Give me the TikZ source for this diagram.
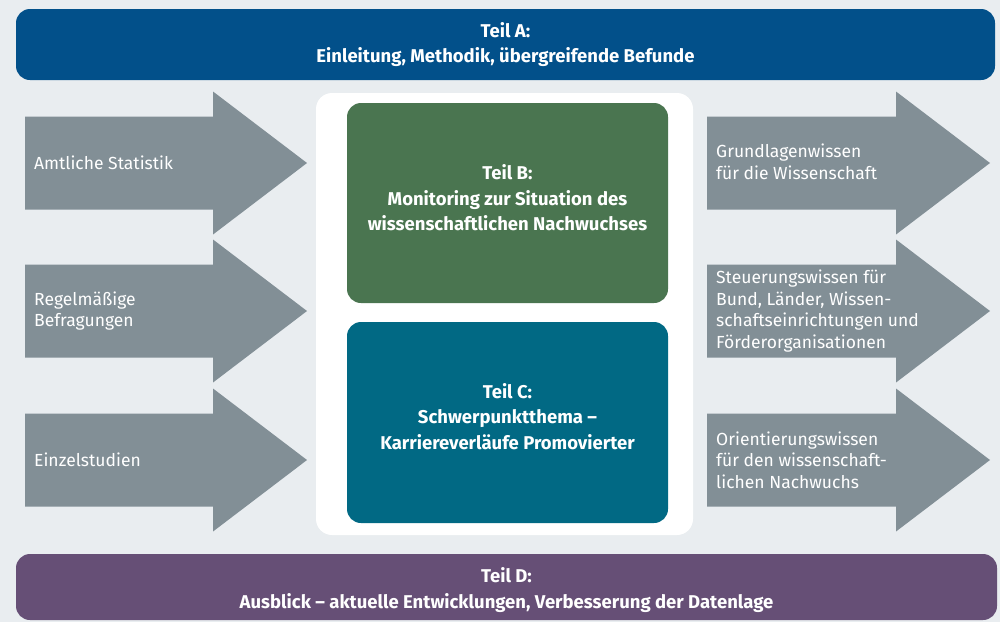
\documentclass[tikz,border=0pt]{standalone}
\usepackage{fontspec}
\setmainfont{Fira Sans}
\definecolor{bgc}{HTML}{E9EDF0}
\definecolor{blueA}{HTML}{02508A}
\definecolor{greenB}{HTML}{4A7550}
\definecolor{tealC}{HTML}{016984}
\definecolor{purpleD}{HTML}{664F76}
\definecolor{arrowc}{HTML}{828F96}
\begin{document}
\begin{tikzpicture}[x=1pt,y=-1pt,
  box/.style={rounded corners=14pt, inner sep=0pt, text=white, align=center,
    font=\fontsize{18.5}{25.5}\selectfont\bfseries},
  arrtext/.style={anchor=west, inner sep=0pt, text=white, align=left,
    font=\fontsize{17.5}{21.5}\selectfont},
  arrfill/.style={fill=arrowc}]
\fill[bgc] (0,0) rectangle (1000,622);
\useasboundingbox (0,0) rectangle (1000,622);
% banners
\node[box, fill=blueA, minimum width=979pt, minimum height=71pt] (A) at (505.5,44.5)
  {Teil A:\\Einleitung, Methodik, übergreifende Befunde};
\node[box, fill=purpleD, minimum width=981pt, minimum height=66pt] (D) at (506.5,587) {};
\node[box, anchor=center] (tD) at (506.5,590)
  {Teil D:\\Ausblick – aktuelle Entwicklungen, Verbesserung der Datenlage};
% white panel
\node[fill=white, rounded corners=16pt, minimum width=377pt, minimum height=442pt, inner sep=0pt] (panel) at (504.5,314) {};
\node[box, fill=greenB, minimum width=321pt, minimum height=200pt] (B) at (507.5,203) {};
\node[box] (tB) at (507.5,198)
  {Teil B:\\Monitoring zur Situation des\\wissenschaftlichen Nachwuchses};
\node[box, fill=tealC, minimum width=321pt, minimum height=201pt] (C) at (507.5,422.5) {};
\node[box] (tC) at (507.5,416.5)
  {Teil C:\\Schwerpunktthema –\\Karriereverläufe Promovierter};
% left arrows
\foreach \c/\n in {163/L1,311/L2,460/L3}{
  \fill[arrfill] (25,\c-46.5) -- (213,\c-46.5) -- (213,\c-71.5) -- (307,\c) -- (213,\c+71.5) -- (213,\c+46.5) -- (25,\c+46.5) -- cycle;
  \coordinate (\n) at (34,\c);
}
% right arrows
\foreach \c/\n in {163/R1,311/R2,460/R3}{
  \fill[arrfill] (707,\c-46.5) -- (896,\c-46.5) -- (896,\c-71.5) -- (990,\c) -- (896,\c+71.5) -- (896,\c+46.5) -- (707,\c+46.5) -- cycle;
  \coordinate (\n) at (716,\c);
}
\node[arrtext] (tL1) at (L1) {Amtliche Statistik};
\node[arrtext] (tL2) at (L2) {Regelmäßige\\Befragungen};
\node[arrtext] (tL3) at (L3) {Einzelstudien};
\node[arrtext] (tR1) at ([yshift=1pt]R1) {Grundlagenwissen\\für die Wissenschaft};
\node[arrtext] (tR2) at (R2) {Steuerungswissen für\\Bund, Länder, Wissen-\\schaftseinrichtungen und\\Förderorganisationen};
\node[arrtext] (tR3) at (R3) {Orientierungswissen\\für den wissenschaft-\\lichen Nachwuchs};
\end{tikzpicture}
\end{document}
